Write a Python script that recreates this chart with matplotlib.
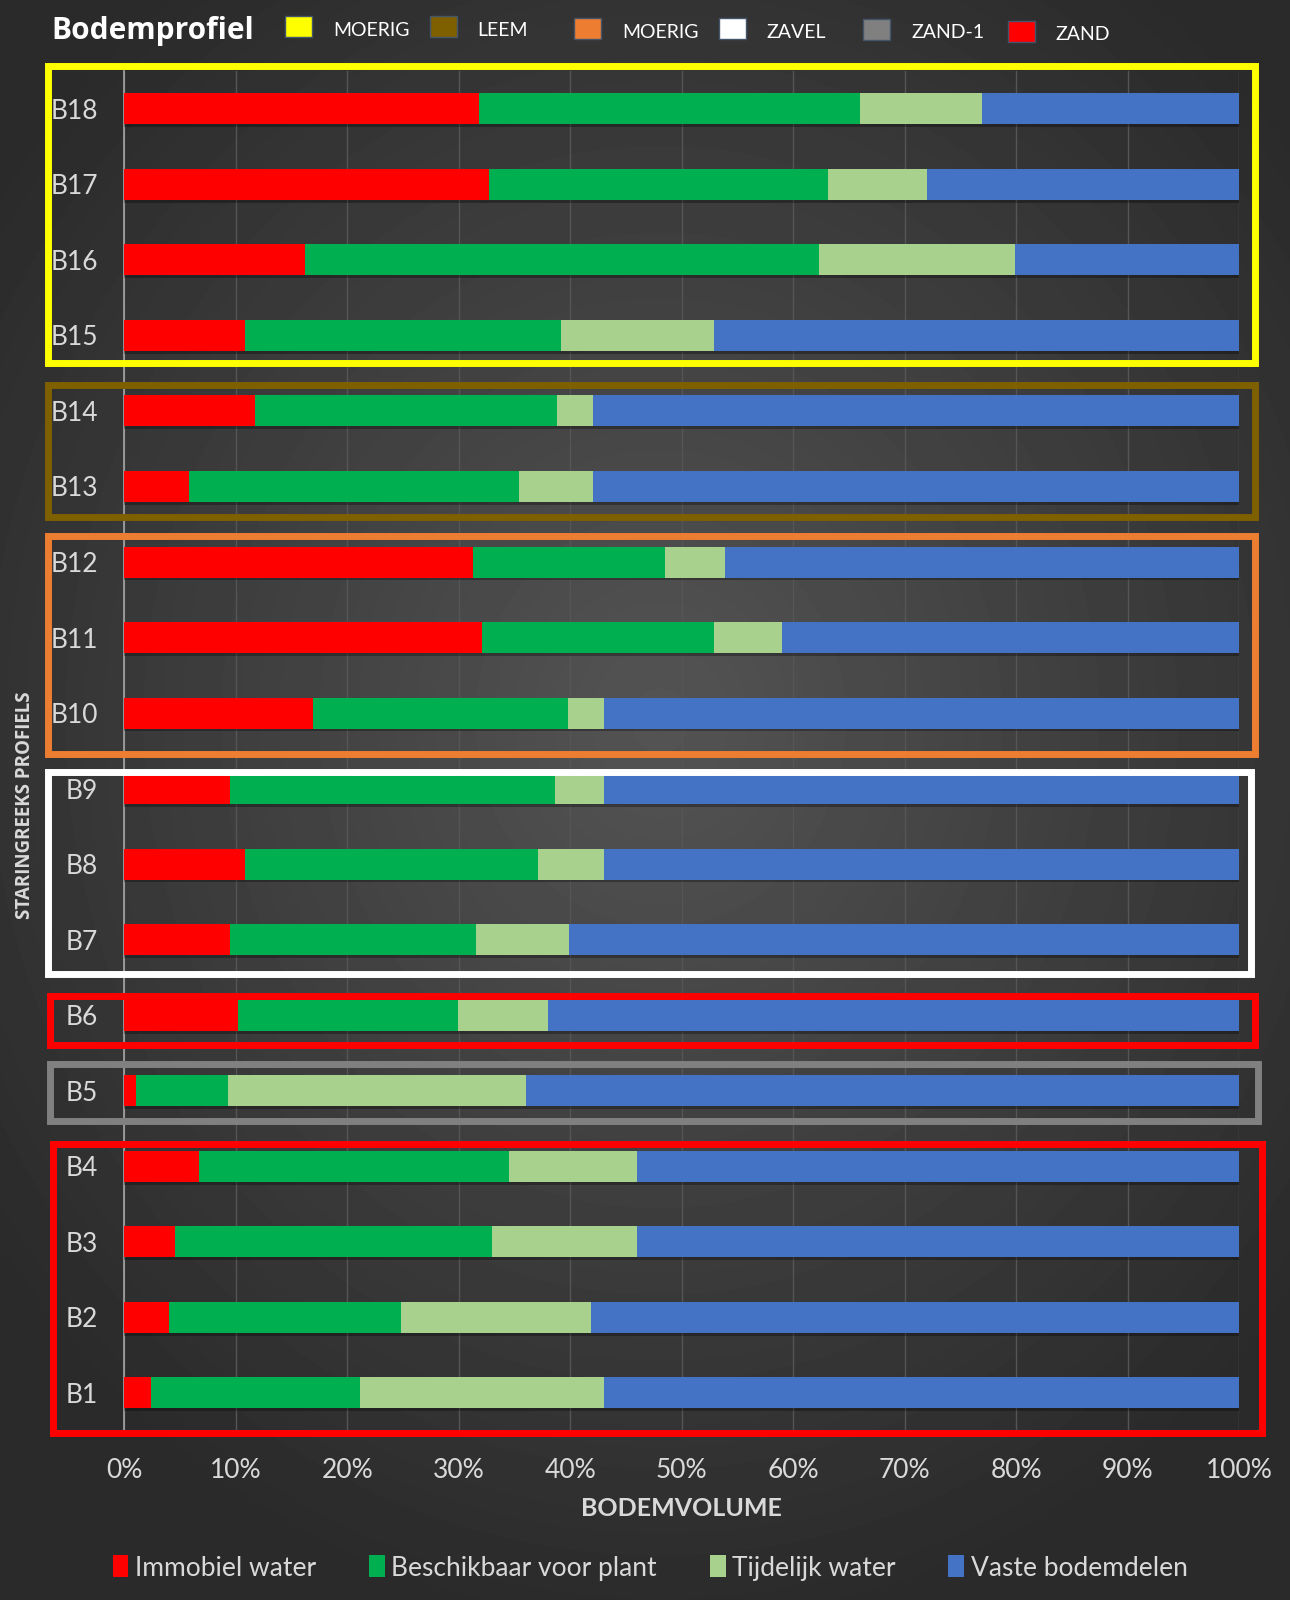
import numpy as np
import matplotlib
matplotlib.use("Agg")
import matplotlib.pyplot as plt
from matplotlib.patches import Rectangle, Patch
import matplotlib.patheffects as pe

# data (B1 .. B18), percentages of soil volume
profielen = ["B1", "B2", "B3", "B4", "B5", "B6", "B7", "B8", "B9",
             "B10", "B11", "B12", "B13", "B14", "B15", "B16", "B17", "B18"]
immobiel = [2.4, 4.0, 4.5, 6.7, 1.0, 10.2, 9.5, 10.8, 9.5,
            16.9, 32.1, 31.3, 5.8, 11.7, 10.8, 16.2, 32.7, 31.8]
beschikbaar = [18.7, 20.8, 28.5, 27.8, 8.3, 19.7, 22.0, 26.3, 29.1,
               22.9, 20.8, 17.2, 29.6, 27.1, 28.4, 46.1, 30.4, 34.2]
tijdelijk = [21.9, 17.1, 13.0, 11.5, 26.7, 8.1, 8.4, 5.9, 4.4,
             3.2, 6.1, 5.4, 6.6, 3.2, 13.7, 17.6, 8.9, 10.9]
vast = [100 - a - b - c for a, b, c in zip(immobiel, beschikbaar, tijdelijk)]

reeksen = ["Immobiel water", "Beschikbaar voor plant", "Tijdelijk water", "Vaste bodemdelen"]
kleuren = ["#FF0000", "#00B050", "#A9D18E", "#4472C4"]

# bodemprofiel groepen
groep_labels = ["MOERIG", "LEEM", "MOERIG", "ZAVEL", "ZAND-1", "ZAND"]
groep_kleuren = ["#FFFF00", "#7F6000", "#ED7D31", "#FFFFFF", "#808080", "#FF0000"]
groep_frames = [("#FFFF00", 14, 17), ("#7F6000", 12, 13), ("#ED7D31", 9, 11),
                ("#FFFFFF", 6, 8), ("#FF0000", 5, 5), ("#808080", 4, 4), ("#FF0000", 0, 3)]
# frame padding (below, above, left, right) in data units
frame_pad = [(0.36, 0.57, -6.9, 101.4), (0.40, 0.35, -6.9, 101.4), (0.54, 0.35, -6.9, 101.4),
             (0.46, 0.22, -6.9, 101.1), (0.40, 0.25, -6.7, 101.4), (0.40, 0.36, -6.7, 101.7),
             (0.53, 0.29, -6.4, 102.1)]

FONT = ["Lato", "DejaVu Sans"]
plt.rcParams["font.family"] = FONT
txt = "#D9D9D9"

fig = plt.figure(figsize=(12.9, 16), dpi=100)

# radial gradient background
bg = fig.add_axes([0, 0, 1, 1], zorder=-10)
yy, xx = np.mgrid[0:1600, 0:1290]
r = np.sqrt(((xx - 660) / 900.0) ** 2 + ((yy - 720) / 1000.0) ** 2)
shade = np.clip(0.33 - 0.18 * r, 0.165, 0.33)
bg.imshow(shade, cmap="gray", vmin=0, vmax=1, aspect="auto", extent=[0, 1, 0, 1])
bg.axis("off")

ax = fig.add_axes([0.0965, 0.1058, 0.864, 0.8498])
ax.patch.set_alpha(0)

y = np.arange(len(profielen))
links = np.zeros(len(profielen))
shadow = [pe.SimplePatchShadow(offset=(0, -2), shadow_rgbFace="black", alpha=0.3), pe.Normal()]
for naam, waarden, kleur in zip(reeksen, [immobiel, beschikbaar, tijdelijk, vast], kleuren):
    bars = ax.barh(y, waarden, left=links, height=0.41, color=kleur, label=naam, zorder=3)
    for b in bars:
        b.set_path_effects(shadow)
    links += np.array(waarden)

ax.set_xlim(0, 100)
ax.set_ylim(-0.5, len(profielen) - 0.5)
ax.set_xticks(np.arange(0, 101, 10))
ax.set_xticklabels([f"{v}%" for v in range(0, 101, 10)])
ax.set_yticks(y)
ax.set_yticklabels(profielen)
ax.tick_params(axis="both", length=0, colors=txt, labelsize=19)
ax.tick_params(axis="x", pad=20)
ax.tick_params(axis="y", pad=19)
ax.grid(axis="x", color="#555555", linewidth=1.0, zorder=0)
for s in ["top", "right", "bottom"]:
    ax.spines[s].set_visible(False)
ax.spines["left"].set_color("#A6A6A6")
ax.spines["left"].set_linewidth(1.2)

ax.set_xlabel("BODEMVOLUME", color=txt, fontsize=18, fontweight="bold", labelpad=10)
fig.text(0.019, 0.497, "STARINGREEKS PROFIELS", rotation=90, color=txt, fontsize=13.5,
         fontweight="bold", family=["Open Sans", "DejaVu Sans"], ha="center", va="center")

# group frames
for (kleur, i0, i1), (lo, hi, xl, xr) in zip(groep_frames, frame_pad):
    ax.add_patch(Rectangle((xl, i0 - lo), xr - xl, (i1 + hi) - (i0 - lo), fill=False,
                           edgecolor=kleur, linewidth=5, clip_on=False, zorder=5))

# top legend: Bodemprofiel
fig.text(0.0395, 0.9805, "Bodemprofiel", color="white", fontsize=21.5, fontweight="bold",
         family=["Open Sans", "DejaVu Sans"], ha="left", va="center")
x0, stap = 285, 144.5
dy = [0, 0, 2, 2, 3, 5]
for i, (lab, kl) in enumerate(zip(groep_labels, groep_kleuren)):
    xs = x0 + i * stap
    ys = 1600 - 37 - dy[i]
    fig.patches.append(Rectangle((xs / 1290, ys / 1600), 27 / 1290, 21 / 1600, facecolor=kl,
                                 edgecolor="#44546A", linewidth=1, transform=fig.transFigure))
    fig.text((xs + 48) / 1290, (1600 - 30 - dy[i]) / 1600, lab, color="white", fontsize=14,
             ha="left", va="center")

# bottom legend
handles = [Patch(facecolor=k, label=n) for n, k in zip(reeksen, kleuren)]
fig.legend(handles=handles, loc="center", bbox_to_anchor=(0.504, 0.02), ncol=4, frameon=False,
           fontsize=19, labelcolor=txt, handlelength=0.6, handleheight=0.9,
           handletextpad=0.25, columnspacing=2.0)

fig.savefig("out.png", dpi=100)
